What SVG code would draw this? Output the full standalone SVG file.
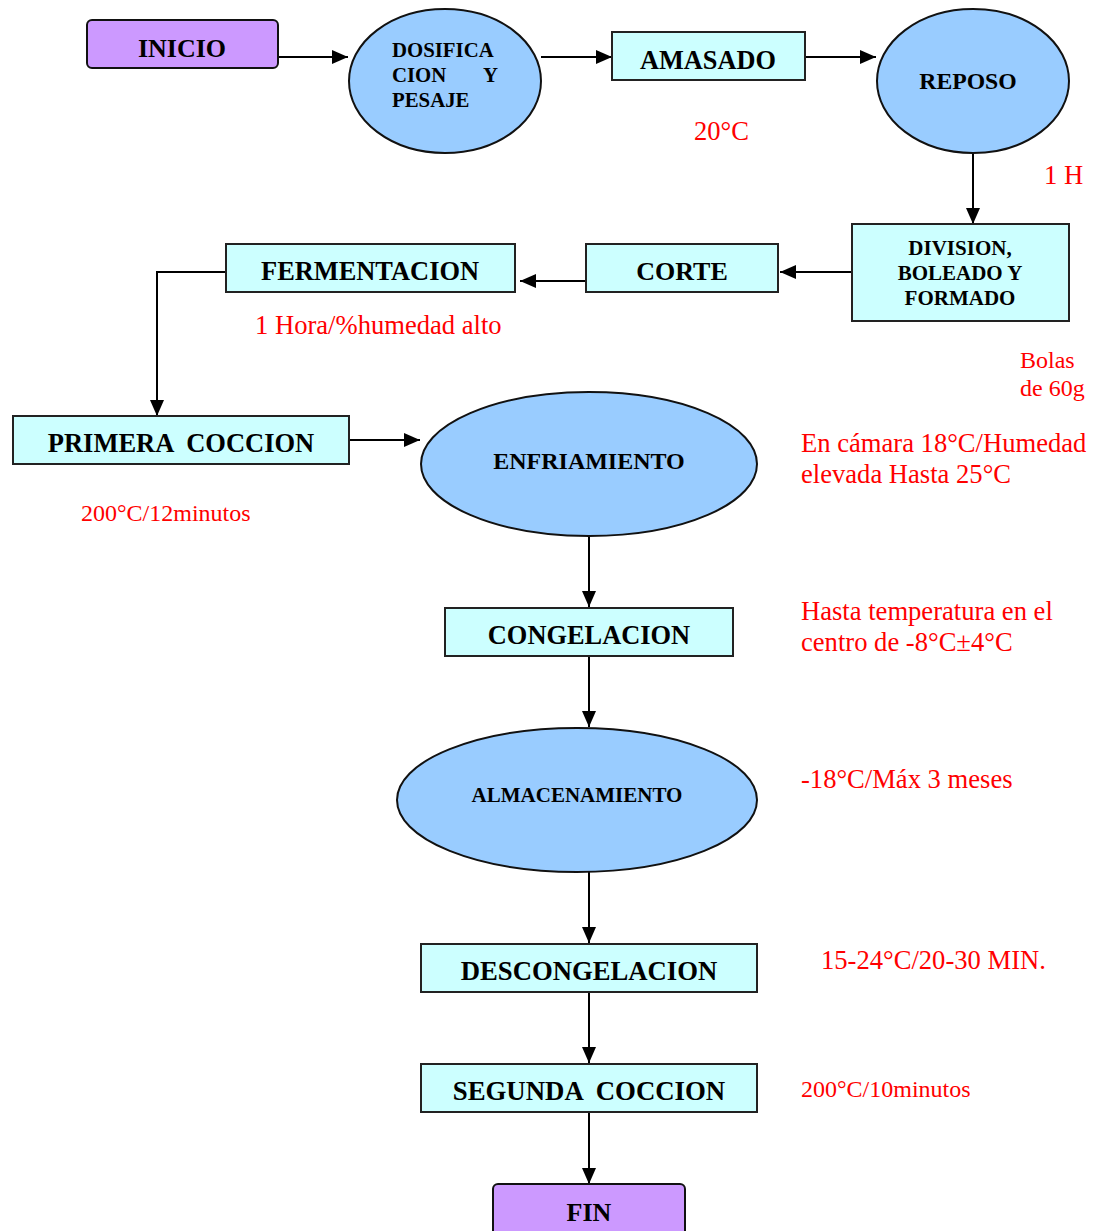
<svg xmlns="http://www.w3.org/2000/svg" width="1104" height="1231" viewBox="0 0 1104 1231">
  <style>
    .term { fill: #CC99FF; stroke: #111; stroke-width: 2; }
    .box { fill: #CCFFFF; stroke: #222; stroke-width: 2; }
    .oval { fill: #99CCFF; stroke: #111; stroke-width: 2; }
    .lbl { font-family: "Liberation Serif", "Times New Roman", serif; font-weight: bold; fill: #000; text-anchor: middle; }
    .lft { text-anchor: start; }
    .note { font-family: "Liberation Serif", "Times New Roman", serif; fill: #FF0000; font-size: 26.6px; }
    .note.sm { font-size: 24px; }
    .conn { fill: none; stroke: #000; stroke-width: 2; marker-end: url(#arrow); }
  </style>
  <defs>
    <marker id="arrow" viewBox="0 0 16 14" refX="16" refY="7" markerWidth="16" markerHeight="14" markerUnits="userSpaceOnUse" orient="auto">
      <path d="M0,0 L16,7 L0,14 Z" fill="#000"/>
    </marker>
  </defs>
  <rect width="1104" height="1231" fill="#fff"/>

  <!-- connectors -->
  <g id="connectors">
    <path class="conn" d="M278,57 H348"/>
    <path class="conn" d="M541,57 H612"/>
    <path class="conn" d="M805,57 H876"/>
    <path class="conn" d="M973,153 V224"/>
    <path class="conn" d="M852,272 H780"/>
    <path class="conn" d="M586,281 H520"/>
    <path class="conn" d="M229,272 H157 V416"/>
    <path class="conn" d="M349,440 H420"/>
    <path class="conn" d="M589,536 V607"/>
    <path class="conn" d="M589,656 V727"/>
    <path class="conn" d="M589,872 V943"/>
    <path class="conn" d="M589,992 V1063"/>
    <path class="conn" d="M589,1112 V1184"/>
  </g>

  <g id="inicio">
    <rect class="term" x="87" y="20" width="191" height="48" rx="5"/>
    <text class="lbl" x="182" y="57" font-size="26">INICIO</text>
  </g>

  <g id="dosificacion">
    <ellipse class="oval" cx="445" cy="81" rx="96" ry="72"/>
    <text class="lbl lft" x="392" y="57" font-size="20.8">DOSIFICA</text>
    <text class="lbl lft" x="392" y="82" font-size="20.8">CION</text>
    <text class="lbl lft" x="483" y="82" font-size="20.8">Y</text>
    <text class="lbl lft" x="392" y="107" font-size="20.8">PESAJE</text>
  </g>

  <g id="amasado">
    <rect class="box" x="612" y="32" width="193" height="48"/>
    <text class="lbl" x="708" y="69" font-size="26.3">AMASADO</text>
  </g>

  <g id="reposo">
    <ellipse class="oval" cx="973" cy="81" rx="96" ry="72"/>
    <text class="lbl" x="968" y="89" font-size="23.7">REPOSO</text>
  </g>

  <g id="division">
    <rect class="box" x="852" y="224" width="217" height="97"/>
    <text class="lbl" x="960" y="255" font-size="21">DIVISION,</text>
    <text class="lbl" x="960" y="280" font-size="21">BOLEADO Y</text>
    <text class="lbl" x="960" y="305" font-size="21">FORMADO</text>
  </g>

  <g id="corte">
    <rect class="box" x="586" y="244" width="192" height="48"/>
    <text class="lbl" x="682" y="280" font-size="26">CORTE</text>
  </g>

  <g id="fermentacion">
    <rect class="box" x="226" y="244" width="289" height="48"/>
    <text class="lbl" x="370" y="280" font-size="26.4">FERMENTACION</text>
  </g>

  <g id="primera-coccion">
    <rect class="box" x="13" y="416" width="336" height="48"/>
    <text class="lbl" x="181" y="452" font-size="26.5" xml:space="preserve">PRIMERA  COCCION</text>
  </g>

  <g id="enfriamiento">
    <ellipse class="oval" cx="589" cy="464" rx="168" ry="72"/>
    <text class="lbl" x="589" y="469" font-size="24">ENFRIAMIENTO</text>
  </g>

  <g id="congelacion">
    <rect class="box" x="445" y="608" width="288" height="48"/>
    <text class="lbl" x="589" y="644" font-size="26.4">CONGELACION</text>
  </g>

  <g id="almacenamiento">
    <ellipse class="oval" cx="577" cy="800" rx="180" ry="72"/>
    <text class="lbl" x="577" y="802" font-size="21">ALMACENAMIENTO</text>
  </g>

  <g id="descongelacion">
    <rect class="box" x="421" y="944" width="336" height="48"/>
    <text class="lbl" x="589" y="980" font-size="26.7">DESCONGELACION</text>
  </g>

  <g id="segunda-coccion">
    <rect class="box" x="421" y="1064" width="336" height="48"/>
    <text class="lbl" x="589" y="1100" font-size="26.8" xml:space="preserve">SEGUNDA  COCCION</text>
  </g>

  <g id="fin">
    <rect class="term" x="493" y="1184" width="192" height="60" rx="5"/>
    <text class="lbl" x="589" y="1221" font-size="26">FIN</text>
  </g>

  <!-- process conditions -->
  <g id="notes">
    <text class="note" x="694" y="140">20°C</text>
    <text class="note" x="1044" y="184">1 H</text>
    <text class="note" x="255" y="334">1 Hora/%humedad alto</text>
    <text class="note sm" x="1020" y="368">Bolas</text>
    <text class="note sm" x="1020" y="396">de 60g</text>
    <text class="note sm" x="81" y="521">200°C/12minutos</text>
    <text class="note" x="801" y="452">En cámara 18°C/Humedad</text>
    <text class="note" x="801" y="483">elevada Hasta 25°C</text>
    <text class="note" x="801" y="620">Hasta temperatura en el</text>
    <text class="note" x="801" y="651">centro de -8°C±4°C</text>
    <text class="note" x="801" y="788">-18°C/Máx 3 meses</text>
    <text class="note" x="821" y="969">15-24°C/20-30 MIN.</text>
    <text class="note sm" x="801" y="1097">200°C/10minutos</text>
  </g>
</svg>
